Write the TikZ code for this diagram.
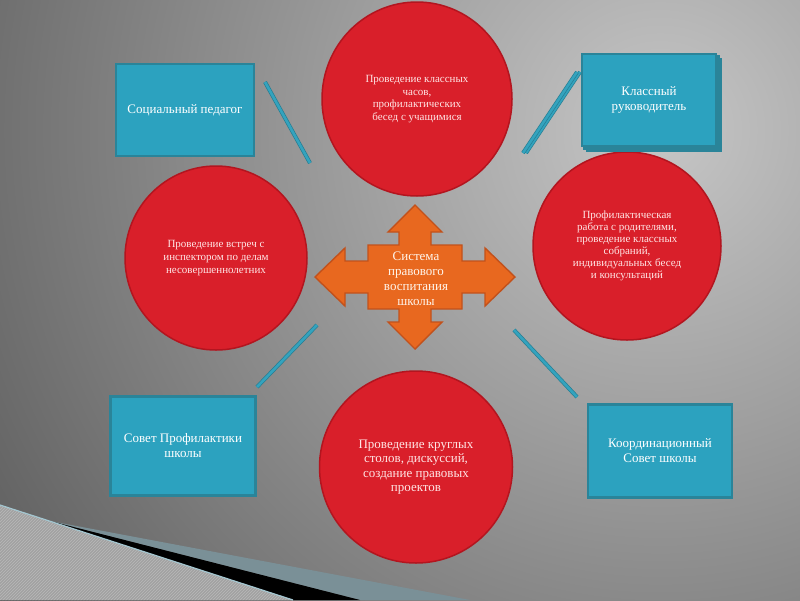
\documentclass[tikz,border=0pt]{standalone}
\usepackage{fontspec}
\setmainfont{Liberation Serif}
\usetikzlibrary{shapes.geometric, shadows, patterns}

\definecolor{bgdark}{HTML}{2E2E2E}
\definecolor{bglight}{HTML}{C6C6C6}
\definecolor{circfill}{HTML}{D91F2A}
\definecolor{circedge}{HTML}{B3151F}
\definecolor{boxfill}{HTML}{2CA2BF}
\definecolor{boxedge}{HTML}{2A8499}
\definecolor{barfill}{HTML}{34A3BE}
\definecolor{baredge}{HTML}{247E93}
\definecolor{hubfill}{HTML}{E8681F}
\definecolor{hubedge}{HTML}{C2511B}
\definecolor{stripebase}{HTML}{A2A2A2}
\definecolor{stripeline}{HTML}{B9B9B9}
\definecolor{edgeblue}{HTML}{A3C6D0}
\definecolor{wedgeblue}{HTML}{7A9097}

\begin{document}
\begin{tikzpicture}[x=1pt, y=-1pt,
	circ/.style={ellipse, draw=circedge, line width=1.5pt, fill=circfill, text=white!90!red, align=center, inner sep=0pt},
	role/.style={rectangle, draw=boxedge, line width=2.2pt, fill=boxfill, text=white, align=center, font=\fontsize{13}{15}\selectfont},
	bar/.style={draw=baredge, line width=0.7pt, double=barfill, double distance=2.6pt},
	hubshape/.style={draw=hubedge, line width=1.4pt, fill=hubfill, line join=miter},
	hubtext/.style={text=white!92!orange, align=center, font=\fontsize{13}{15}\selectfont}]
		
		\useasboundingbox (0,0) rectangle (800,600);
		
		% Background
		\begin{scope}
			\clip (0,0) rectangle (800,600);
			\shade[inner color=bglight, outer color=bgdark] (660,130) circle[radius=1180];
		\end{scope}
		
		% Corner wedge
		\fill[wedgeblue] (50,521) -- (470,600) -- (360,600) -- cycle;
		\fill[black] (50,521) -- (360,600) -- (293,600) -- cycle;
		\fill[stripebase] (0,505) -- (293,600) -- (0,600) -- cycle;
		\fill[pattern=north east lines, pattern color=stripeline] (0,505) -- (293,600) -- (0,600) -- cycle;
		\draw[edgeblue, line width=1.2pt] (0,505) -- (293,600);
		
		% Circles
		\node[circ, minimum width=190pt, minimum height=194pt, font=\fontsize{11}{12.6}\selectfont] (talks) at (417,99) {Проведение классных\\часов,\\профилактических\\бесед с учащимися};
		\node[circ, minimum width=182pt, minimum height=184pt, font=\fontsize{11}{13}\selectfont] (inspector) at (216,258) {Проведение встреч с\\инспектором по делам\\несовершеннолетних};
		\node[circ, minimum width=188pt, minimum height=188pt, font=\fontsize{11}{12}\selectfont] (parents) at (627,246) {Профилактическая\\работа с родителями,\\проведение классных\\собраний,\\индивидуальных бесед\\и консультаций};
		\node[circ, minimum width=193pt, minimum height=192pt, font=\fontsize{13}{14.3}\selectfont] (tables) at (416,467) {Проведение круглых\\столов, дискуссий,\\создание правовых\\проектов};
		
		% Boxes
		\node[role, minimum width=138pt, minimum height=92pt] (social) at (185,110) {Социальный педагог};
		\node[role, double copy shadow={shadow xshift=2.5pt, shadow yshift=-2.5pt}, minimum width=134pt, minimum height=92pt] (teacher) at (649,100) {Классный\\руководитель};
		\node[role, minimum width=145pt, minimum height=99pt] (council) at (183,446) {Совет Профилактики\\школы};
		\node[role, minimum width=144pt, minimum height=93pt] (coord) at (660,451) {Координационный\\Совет школы};
		
		% Bars
		\coordinate (socA) at (265,82);
		\coordinate (socB) at (310,163);
		\coordinate (teaA) at (577,72);
		\coordinate (teaB) at (523,153);
		\coordinate (couA) at (317,325);
		\coordinate (couB) at (257,387);
		\coordinate (cooA) at (514,330);
		\coordinate (cooB) at (577,397);
		\draw[bar] (socA) -- (socB);
		\draw[bar] ([xshift=3pt]teaA) -- ([xshift=3pt]teaB);
		\draw[bar] (teaA) -- (teaB);
		\draw[bar] (couA) -- (couB);
		\draw[bar] (cooA) -- (cooB);
		
		% Hub
		\coordinate (hubc) at (415,277);
		\draw[hubshape, shift={(hubc)}] (0,-72) -- (27,-45) -- (16,-45) -- (16,-32) -- (47,-32) -- (47,-16) -- (70,-16) -- (70,-29) -- (100,0) -- (70,29) -- (70,16) -- (47,16) -- (47,32) -- (16,32) -- (16,45) -- (27,45) -- (0,72) -- (-27,45) -- (-16,45) -- (-16,32) -- (-47,32) -- (-47,16) -- (-70,16) -- (-70,29) -- (-100,0) -- (-70,-29) -- (-70,-16) -- (-47,-16) -- (-47,-32) -- (-16,-32) -- (-16,-45) -- (-27,-45) -- cycle;
		\node[hubtext] (hub) at (416,279) {Система\\правового\\воспитания\\школы};
		
	\end{tikzpicture}
\end{document}
